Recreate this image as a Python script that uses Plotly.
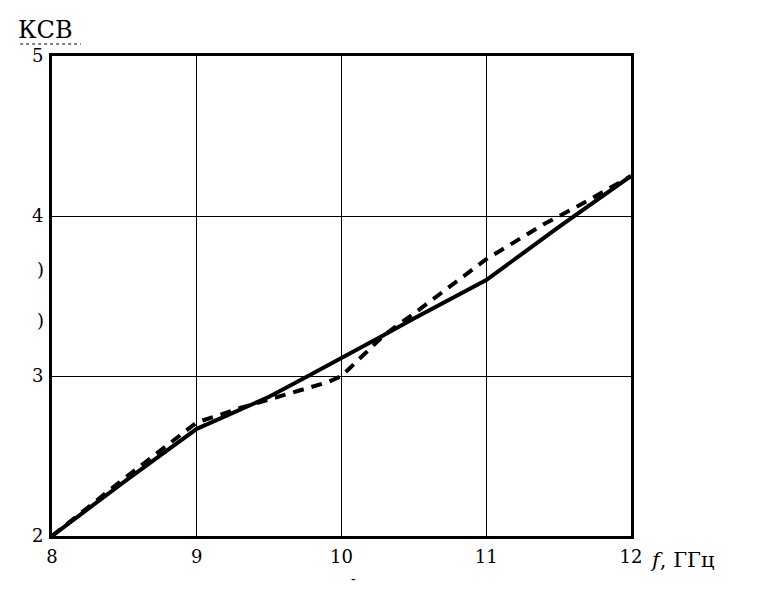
import plotly.graph_objects as go

# частота, ГГц
freq_solid = [8.0, 8.5, 9.0, 9.5, 9.75, 10.0, 10.3, 10.5, 11.0, 11.5, 12.0]
vswr_solid = [2.0, 2.34, 2.67, 2.87, 2.99, 3.11, 3.26, 3.36, 3.6, 3.93, 4.25]

freq_dash = [8.0, 8.5, 9.0, 9.3, 9.6, 9.9, 10.0, 10.3, 10.5, 11.0, 11.2, 11.4, 11.65, 12.0]
vswr_dash = [2.0, 2.36, 2.71, 2.8, 2.88, 2.96, 3.0, 3.26, 3.39, 3.73, 3.84, 3.95, 4.07, 4.25]

x_ticks = [8, 9, 10, 11, 12]
y_ticks = [2, 3, 4, 5]

serif = "DejaVu Serif"

fig = go.Figure()
fig.add_trace(go.Scatter(x=freq_solid, y=vswr_solid, mode="lines",
                         line=dict(color="black", width=4)))
fig.add_trace(go.Scatter(x=freq_dash, y=vswr_dash, mode="lines",
                         line=dict(color="black", width=4, dash="11px,8px")))

fig.update_layout(
    width=762, height=611,
    margin=dict(l=44, r=139, t=48, b=83, autoexpand=False),
    paper_bgcolor="white", plot_bgcolor="white",
    showlegend=False,
    font=dict(family=serif, size=18, color="black"),
)
fig.update_xaxes(range=[8, 12], tickvals=x_ticks, showgrid=True, gridcolor="black",
                 gridwidth=1, zeroline=False, showline=True, linecolor="black",
                 linewidth=3, mirror=True, ticks="", ticklabelstandoff=2,
                 automargin=False, tickfont=dict(family=serif, size=18))
fig.update_yaxes(range=[2, 5], tickvals=y_ticks, showgrid=True, gridcolor="black",
                 gridwidth=1, zeroline=False, showline=True, linecolor="black",
                 linewidth=3, mirror=True, ticks="", ticklabelstandoff=2,
                 automargin=False, tickfont=dict(family=serif, size=18))

fig.add_annotation(text="КСВ", xref="paper", yref="paper", x=-0.062, y=1.02,
                   xanchor="left", yanchor="bottom", showarrow=False,
                   font=dict(family=serif, size=24))
fig.add_shape(type="line", xref="paper", yref="paper", x0=-0.055, x1=0.05,
              y0=1.025, y1=1.025, line=dict(color="black", width=1, dash="dot"))
fig.add_annotation(text="<i>f</i>, ГГц", xref="paper", yref="paper", x=1.03, y=-0.02,
                   xanchor="left", yanchor="top", showarrow=False,
                   font=dict(family=serif, size=21))
fig.add_annotation(text=")", xref="paper", yref="paper", x=-0.03, y=0.555,
                   showarrow=False, font=dict(family=serif, size=18))
fig.add_annotation(text=")", xref="paper", yref="paper", x=-0.03, y=0.45,
                   showarrow=False, font=dict(family=serif, size=18))
fig.add_annotation(text="-", xref="paper", yref="paper", x=0.52, y=-0.11,
                   showarrow=False, font=dict(family=serif, size=14))

fig.write_html("out.html")
